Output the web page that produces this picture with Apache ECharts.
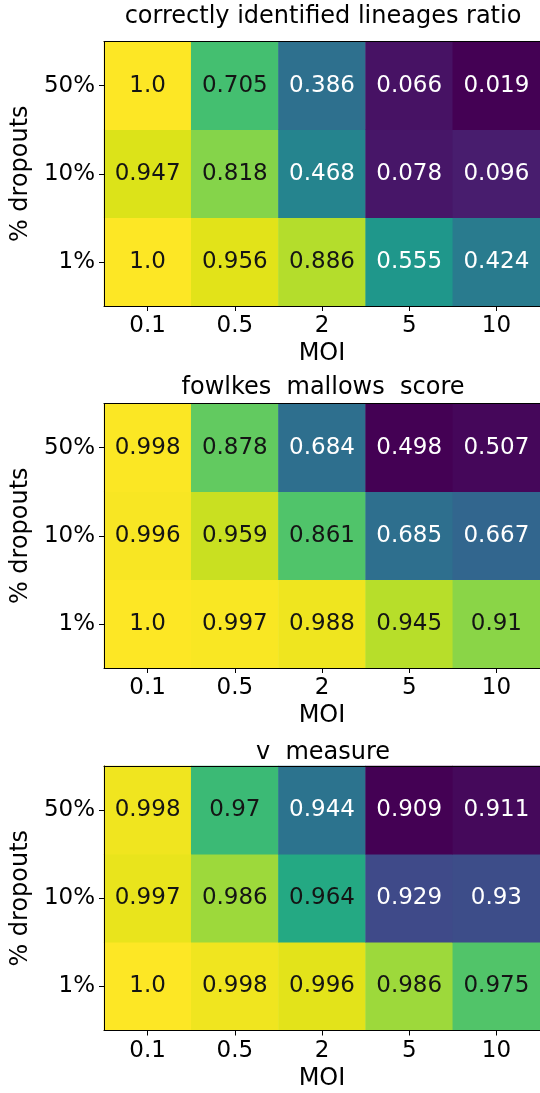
<!DOCTYPE html>
<html>
<head>
<meta charset="utf-8">
<script src="https://cdn.jsdelivr.net/npm/echarts@6/dist/echarts.min.js"></script>
<style>
  html, body { margin: 0; padding: 0; background: #ffffff; }
  #chart { width: 540px; height: 1093px; }
</style>
</head>
<body>
<div id="chart"></div>
<script>
// MOI categories along x, dropout levels along y (bottom to top)
const moiLabels = ['0.1', '0.5', '2', '5', '10'];
const dropoutLabels = ['1%', '10%', '50%'];

// Each metric: one row per dropout level (1%, 10%, 50%), columns follow MOI order
const lineageRatio = [
  [1.0, 0.956, 0.886, 0.555, 0.424],
  [0.947, 0.818, 0.468, 0.078, 0.096],
  [1.0, 0.705, 0.386, 0.066, 0.019]
];
const fowlkesMallows = [
  [1.0, 0.997, 0.988, 0.945, 0.91],
  [0.996, 0.959, 0.861, 0.685, 0.667],
  [0.998, 0.878, 0.684, 0.498, 0.507]
];
const vMeasure = [
  [1.0, 0.998, 0.996, 0.986, 0.975],
  [0.997, 0.986, 0.964, 0.929, 0.93],
  [0.998, 0.97, 0.944, 0.909, 0.911]
];
const panelTitles = ['correctly identified lineages ratio', 'fowlkes  mallows  score', 'v  measure'];
const panelData = [lineageRatio, fowlkesMallows, vMeasure];

// viridis colour ramp
const viridis = [
  '#440154', '#471365', '#482475', '#46337f', '#414487', '#3b528b', '#355f8d',
  '#31688e', '#2a788e', '#26828e', '#21918c', '#1f988b', '#22a884', '#35b779',
  '#44bf70', '#5ec962', '#7ad151', '#a0da39', '#bddf26', '#dfe318', '#fde725'
];

const FONT = 'DejaVu Sans';
const FS = 23;        // tick labels and cell annotations
const LABEL_FS = 24;  // titles and axis names
const gridLeft = 104;
const gridWidth = 441;
const gridHeight = 264.5;
const gridTops = [41.5, 403.5, 766];
const titleMidY = [17, 387.5, 752.5];

function fmt(v) {
  return Number.isInteger(v) ? v.toFixed(1) : String(v);
}

const grids = [], xAxes = [], yAxes = [], series = [], visualMaps = [], graphics = [];

panelData.forEach((rows, p) => {
  const flat = rows.flat();
  const vmin = Math.min(...flat);
  const vmax = Math.max(...flat);

  grids.push({ left: gridLeft, top: gridTops[p], width: gridWidth, height: gridHeight, containLabel: false });

  xAxes.push({
    type: 'category', gridIndex: p, data: moiLabels, position: 'bottom', z: 5,
    name: 'MOI', nameLocation: 'middle', nameGap: 36,
    nameTextStyle: { fontFamily: FONT, fontSize: LABEL_FS, color: '#000' },
    axisLine: { show: true, lineStyle: { color: '#000', width: 1 } },
    axisTick: { show: true, alignWithLabel: true, length: 5, lineStyle: { color: '#000', width: 1 } },
    axisLabel: { fontFamily: FONT, fontSize: FS, color: '#000', margin: 9 },
    splitLine: { show: false }, splitArea: { show: false }
  });
  // frame line along the top edge
  xAxes.push({
    type: 'category', gridIndex: p, data: moiLabels, position: 'top', z: 5,
    axisLine: { show: true, lineStyle: { color: '#000', width: 1 } },
    axisTick: { show: false }, axisLabel: { show: false }, splitLine: { show: false }
  });

  yAxes.push({
    type: 'category', gridIndex: p, data: dropoutLabels, position: 'left', z: 5,
    name: '% dropouts', nameLocation: 'middle', nameGap: 67, nameRotate: 90,
    nameTextStyle: { fontFamily: FONT, fontSize: LABEL_FS, color: '#000' },
    axisLine: { show: true, lineStyle: { color: '#000', width: 1 } },
    axisTick: { show: true, alignWithLabel: true, length: 5, lineStyle: { color: '#000', width: 1 } },
    axisLabel: { fontFamily: FONT, fontSize: FS, color: '#000', margin: 9 },
    splitLine: { show: false }, splitArea: { show: false }
  });

  const data = [];
  rows.forEach((row, yi) => {
    row.forEach((v, xi) => {
      const t = (v - vmin) / (vmax - vmin);
      data.push({
        value: [xi, yi, v],
        label: { color: t > 0.575 ? '#141414' : '#ffffff' }
      });
    });
  });

  series.push({
    type: 'heatmap', xAxisIndex: p * 2, yAxisIndex: p, data: data,
    label: {
      show: true, fontFamily: FONT, fontSize: FS,
      formatter: (d) => fmt(d.value[2])
    },
    itemStyle: { borderWidth: 0 },
    emphasis: { disabled: true }
  });

  visualMaps.push({
    type: 'continuous', show: false, seriesIndex: p, dimension: 2,
    min: vmin, max: vmax, inRange: { color: viridis }
  });

  graphics.push({
    type: 'text', x: gridLeft + gridWidth / 2 - 1.5, y: titleMidY[p], z: 10,
    style: {
      text: panelTitles[p], font: LABEL_FS + 'px "' + FONT + '"', fill: '#000',
      textAlign: 'center', textVerticalAlign: 'middle'
    }
  });
});

const chart = echarts.init(document.getElementById('chart'), null, { renderer: 'canvas' });
chart.setOption({
  animation: false,
  backgroundColor: '#ffffff',
  grid: grids,
  xAxis: xAxes,
  yAxis: yAxes,
  visualMap: visualMaps,
  series: series,
  graphic: graphics
});
</script>
</body>
</html>
